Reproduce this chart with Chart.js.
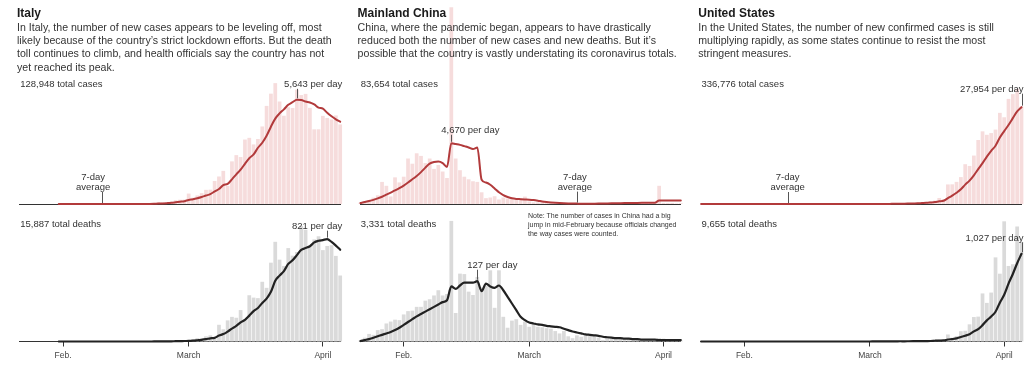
<!DOCTYPE html>
<html>
<head>
<meta charset="utf-8">
<script src="https://cdn.jsdelivr.net/npm/chart.js@4.4.1/dist/chart.umd.min.js"></script>
<style>
  html, body { margin: 0; padding: 0; background: #fff; }
  body { width: 1028px; height: 366px; position: relative; overflow: hidden;
         font-family: "Liberation Sans", Arial, sans-serif; }
  canvas { position: absolute; }
  .t { position: absolute; white-space: nowrap; }
  .title { font-weight: bold; font-size: 12px; line-height: 14px; color: #1a1a1a; }
  .desc { font-size: 10.6px; line-height: 13.3px; color: #333; }
  .total { font-size: 9.5px; line-height: 11px; color: #333; }
  .note { font-size: 7px; line-height: 9px; color: #333; }
</style>
</head>
<body>
<script>
// one label per day, Jan 22 to Apr 5
const days = [
  'Jan 22','Jan 23','Jan 24','Jan 25','Jan 26','Jan 27','Jan 28','Jan 29','Jan 30','Jan 31',
  'Feb 1','Feb 2','Feb 3','Feb 4','Feb 5','Feb 6','Feb 7','Feb 8','Feb 9','Feb 10',
  'Feb 11','Feb 12','Feb 13','Feb 14','Feb 15','Feb 16','Feb 17','Feb 18','Feb 19','Feb 20',
  'Feb 21','Feb 22','Feb 23','Feb 24','Feb 25','Feb 26','Feb 27','Feb 28','Feb 29',
  'Mar 1','Mar 2','Mar 3','Mar 4','Mar 5','Mar 6','Mar 7','Mar 8','Mar 9','Mar 10',
  'Mar 11','Mar 12','Mar 13','Mar 14','Mar 15','Mar 16','Mar 17','Mar 18','Mar 19','Mar 20',
  'Mar 21','Mar 22','Mar 23','Mar 24','Mar 25','Mar 26','Mar 27','Mar 28','Mar 29','Mar 30',
  'Mar 31','Apr 1','Apr 2','Apr 3','Apr 4','Apr 5'
];
const tickDays = ['Feb 1', 'Mar 1', 'Apr 1'];
const tickNames = ['Feb.', 'March', 'April'];

const countries = ['Italy', 'Mainland China', 'United States'];
const blurbs = [
  ['In Italy, the number of new cases appears to be leveling off, most',
   'likely because of the country’s strict lockdown efforts. But the death',
   'toll continues to climb, and health officials say the country has not',
   'yet reached its peak.'],
  ['China, where the pandemic began, appears to have drastically',
   'reduced both the number of new cases and new deaths. But it’s',
   'possible that the country is vastly understating its coronavirus totals.'],
  ['In the United States, the number of new confirmed cases is still',
   'multiplying rapidly, as some states continue to resist the most',
   'stringent measures.']
];
const totalCases = ['128,948', '83,654', '336,776'];
const totalDeaths = ['15,887', '3,331', '9,655'];
const casesPerDay = ['5,643', '4,670', '27,954'];
const deathsPerDay = ['821', '127', '1,027'];
const avgLabelDay = ['Feb 10', 'Mar 12', 'Feb 11'];
const noteLines = ['Note: The number of cases in China had a big',
  'jump in mid-February because officials changed',
  'the way cases were counted.'];

// daily values and 7-day averages
const italyCases = [
  0,0,0,0,0,0,0,0,0,2, 0,0,0,0,0,0,1,0,0,0, 0,0,0,0,0,0,0,0,0,0,
  17,42,93,74,93,131,202,233,240,
  566,342,466,587,769,778,1247,1492,1797,977,2313,
  2651,2547,3497,3590,3233,3526,4207,5322,5986,6557,
  5560,4789,5249,5210,6203,5909,5974,5217,4050,4053,
  4782,4668,4585,4805,4316];
const italyCasesAvg = [
  null,null,null,null,null,null,null,null,null,0, 0,0,0,0,0,0,0,0,0,0, 0,0,0,0,0,0,0,0,0,0,
  2,8,22,32,46,64,93,124,152,
  220,258,311,377,458,535,679,812,1019,1092,1339,
  1608,1861,2182,2482,2687,3051,3322,3703,4194,4632,
  4913,5135,5381,5525,5651,5640,5556,5507,5402,5231,
  5170,4950,4761,4594,4466];
const italyDeaths = [
  0,0,0,0,0,0,0,0,0,0, 0,0,0,0,0,0,0,0,0,0, 0,0,0,0,0,0,0,0,0,0,
  1,1,1,4,3,2,5,4,8,
  5,18,27,28,41,49,36,133,97,168,196,
  189,250,175,368,349,345,475,427,627,793,
  651,601,743,683,712,919,889,756,812,837,
  727,760,766,681,525];
const italyDeathsAvg = [
  null,null,null,null,null,null,null,null,null,0, 0,0,0,0,0,0,0,0,0,0, 0,0,0,0,0,0,0,0,0,0,
  0.1,0.3,0.4,1,1.4,1.7,2.4,2.9,3.9,
  4.4,6.4,9.9,13.6,18.7,25.1,29.1,47.4,58.7,78.9,102.9,
  124,152.7,172.6,206,242,267,307,341,395,483,
  524,560,617,646,687,729,743,758,788,801,
  807,814,792,763,730];

const chinaCases = [
  100,150,280,490,670,1700,1400,580,2050,1660,
  2100,3500,3100,3900,3700,3150,3500,2700,3000,2500,2000,
  15136,3500,2600,2100,1900,1750,1700,900,450,500,
  600,350,500,420,430,330,430,570,200,125,
  125,150,150,80,50,40,25,30,15,10,
  20,25,25,20,30,40,60,70,50,90,
  60,80,70,100,90,100,110,80,1400,80,
  70,80,40,60];
const chinaCasesAvg = [
  80,150,230,320,430,560,720,880,1040,1220,
  1420,1650,1900,2150,2450,2800,3100,3230,3270,3150,2850,
  4670,4610,4550,4450,4350,4230,4340,
  1860,1650,1480,1200,900,680,540,440,390,370,350,330,300,
  250,190,150,120,95,75,60,48,38,30,
  25,25,25,28,32,38,44,50,55,62,68,72,78,85,90,95,98,100,
  270,270,268,268,265,262];
const chinaDeaths = [
  2,8,16,14,24,26,38,42,46,45,
  57,64,65,73,73,86,89,97,108,97,100,
  254,60,143,142,105,98,136,114,118,150,
  71,150,52,29,44,47,35,42,31,38,
  31,30,28,27,22,17,22,11,7,13,
  10,14,13,11,8,3,7,6,9,7,
  4,5,6,5,3,5,4,1,7,6,
  4,4,3,2];
const chinaDeathsAvg = [
  1,3,5,8,11,14,17,20,24,29,
  35,41,47,53,58,63,68,73,78,83,87,
  116,111,118,124,124,124,127,106,122,116,113,118,108,
  94,80,66,52,45,40,38,36,35,33,32,31,30,27,24,21,19,
  17,15,14,13,12,10,9,8,7,7,6,6,5,5,4,4,4,4,3,3,3,3,3,3];

const usCases = [
  1,0,1,0,3,0,0,0,0,2, 1,0,3,0,1,0,0,0,0,1, 0,1,1,0,0,0,0,0,0,0,
  2,0,0,36,0,6,1,2,8,
  7,25,24,34,63,98,116,106,163,290,
  307,329,553,587,843,983,1748,1410,5657,5690,
  6392,7779,11500,11000,14000,18500,21000,20000,20500,21500,
  26341,25070,30380,31745,33283,28152];
const usCasesAvg = [
  0,0,0,0,0,0,0,0,0,0, 0,0,0,0,0,0,0,0,0,0, 0,0,0,0,0,0,0,0,0,0,
  0.3,0.3,0.3,5.4,5.4,6.3,6.4,6.7,7.9,
  8.6,6.6,10,14,23,37,52,67,86,124,
  163,201,266,334,439,556,764,922,1683,2417,
  3246,4237,5607,6771,8289,10061,11794,13710,15377,16855,
  19205,21066,22827,24816,26741,27985];
const usDeaths = [
  0,0,0,0,0,0,0,0,0,0, 0,0,0,0,0,0,0,0,0,0, 0,0,0,0,0,0,0,0,0,0, 0,0,0,0,0,0,0,0,
  1,0,5,1,4,1,2,3,4,1,6,8,4,7,7,9,22,23,10,82,44,63,
  120,125,200,285,290,560,450,570,980,790,1400,880,900,1340,1160];
const usDeathsAvg = [
  0,0,0,0,0,0,0,0,0,0, 0,0,0,0,0,0,0,0,0,0, 0,0,0,0,0,0,0,0,0,0, 0,0,0,0,0,0,0,0,
  0.1,0.1,0.9,1,1.6,1.7,2,2.3,2.9,2.3,3,3.6,4,4.7,5.3,6,9,11,12,23,28,36,
  52,67,85,118,144,191,246,291,347,452,545,674,787,912,1022];

const casesData = [[italyCases, italyCasesAvg], [chinaCases, chinaCasesAvg], [usCases, usCasesAvg]];
const deathsData = [[italyDeaths, italyDeathsAvg], [chinaDeaths, chinaDeathsAvg], [usDeaths, usDeathsAvg]];

// layout
const plotLeft = [19.8, 360.4, 701.1];
const plotWidth = 320.4;
const caseMax = [10850, 15385, 57800];
const deathMax = [1046, 277, 1532];
const caseGap = [12.5, 10, 15];
const deathGap = [10, 13, 13];
const avgDx = [-9, -2, 0];

const FONT = '"Liberation Sans", Arial, sans-serif';

// "per day" callout and "7-day average" label, tied to the line's points
const annotate = {
  id: 'annotate',
  afterDatasetsDraw(chart, args, o) {
    if (!o || !o.text) return;
    const ctx = chart.ctx;
    const pts = chart.getDatasetMeta(0).data;
    const ca = chart.chartArea;
    ctx.save();
    ctx.font = '9.5px ' + FONT;
    ctx.fillStyle = '#333';
    ctx.strokeStyle = '#555';
    ctx.lineWidth = 1;
    ctx.textBaseline = 'alphabetic';

    const p = pts[o.index];
    const tw = ctx.measureText(o.text).width;
    const tx = Math.min(p.x - 10, ca.right + 2 - tw);
    const base = p.y - o.gap;
    ctx.textAlign = 'left';
    ctx.fillText(o.text, tx, base);
    const lx = Math.round(p.x) + 0.5;
    ctx.beginPath();
    ctx.moveTo(lx, base + 1.5);
    ctx.lineTo(lx, p.y - 1.5);
    ctx.stroke();

    if (o.avgIndex != null) {
      const q = pts[o.avgIndex];
      const qx = Math.round(q.x) + 0.5;
      ctx.textAlign = 'center';
      ctx.fillText('7-day', q.x + o.avgDx, q.y - 24);
      ctx.fillText('average', q.x + o.avgDx, q.y - 14);
      ctx.beginPath();
      ctx.moveTo(qx, q.y - 12);
      ctx.lineTo(qx, q.y - 1);
      ctx.stroke();
    }
    ctx.restore();
  }
};

function argMax(arr) {
  let best = 0;
  arr.forEach((v, i) => { if (v != null && v >= arr[best]) best = i; });
  return best;
}

function addText(cls, html, left, top) {
  const d = document.createElement('div');
  d.className = 't ' + cls;
  d.innerHTML = html;
  d.style.left = left + 'px';
  d.style.top = top + 'px';
  document.body.appendChild(d);
}

function makeChart(left, top, width, height, padding, bars, avg, style) {
  const cv = document.createElement('canvas');
  cv.width = width;
  cv.height = height;
  cv.style.left = left + 'px';
  cv.style.top = top + 'px';
  document.body.appendChild(cv);

  const withTicks = style.ticks;
  return new Chart(cv, {
    type: 'bar',
    data: {
      labels: days,
      datasets: [
        {
          type: 'line', data: avg, order: 0,
          borderColor: style.line, borderWidth: style.lineWidth,
          pointRadius: 0, cubicInterpolationMode: 'monotone',
          borderJoinStyle: 'round', borderCapStyle: 'round', clip: false
        },
        {
          type: 'bar', data: bars, order: 1,
          backgroundColor: style.bar, barPercentage: 0.86, categoryPercentage: 1,
          clip: false
        }
      ]
    },
    options: {
      responsive: false,
      animation: false,
      devicePixelRatio: 1,
      events: [],
      layout: { padding: padding },
      plugins: {
        legend: { display: false },
        tooltip: { enabled: false },
        annotate: style.annotate
      },
      scales: {
        x: {
          offset: false,
          border: { display: true, color: '#333', width: 1 },
          grid: {
            display: withTicks, offset: false, drawOnChartArea: false,
            drawTicks: withTicks, tickLength: 5,
            color: (c) => (c.tick && tickDays.includes(days[c.tick.value])) ? '#333' : 'rgba(0,0,0,0)'
          },
          ticks: {
            display: withTicks, autoSkip: false, maxRotation: 0, padding: 4,
            color: '#444', font: { family: FONT, size: 8.5 },
            callback: (v, i) => {
              const k = tickDays.indexOf(days[i]);
              return k >= 0 ? tickNames[k] : '';
            }
          }
        },
        y: { display: false, min: 0, max: style.max }
      }
    },
    plugins: [annotate]
  });
}

for (let c = 0; c < 3; c++) {
  const x0 = plotLeft[c];
  const cl = Math.floor(x0) - 12;
  const cw = Math.min(346, 1028 - cl);
  const padL = x0 - cl;
  const padR = cw - padL - plotWidth;

  const [cb, ca] = casesData[c];
  makeChart(cl, 0, cw, 206, { left: padL, right: padR, top: 4, bottom: 2 }, cb, ca, {
    ticks: false, line: '#b23a3b', lineWidth: 2, bar: '#f6dcdc', max: caseMax[c],
    annotate: { text: casesPerDay[c] + ' per day', index: argMax(ca), gap: caseGap[c],
                avgIndex: days.indexOf(avgLabelDay[c]), avgDx: avgDx[c] }
  });

  const [db, da] = deathsData[c];
  makeChart(cl, 200, cw, 166, { left: padL, right: padR, top: 10, bottom: 1.3 }, db, da, {
    ticks: true, line: '#222', lineWidth: 2.2, bar: '#dadada', max: deathMax[c],
    annotate: { text: deathsPerDay[c] + ' per day', index: argMax(da), gap: deathGap[c] }
  });

  addText('title', countries[c], x0 - 2.8, 6.1);
  addText('desc', blurbs[c].join('<br>'), x0 - 2.8, 20.7);
  addText('total', totalCases[c] + ' total cases', x0 + 0.4, 78.2);
  addText('total', totalDeaths[c] + ' total deaths', x0 + 0.4, 217.9);
}
addText('note', noteLines.join('<br>'), 528, 211.4);
</script>
</body>
</html>
